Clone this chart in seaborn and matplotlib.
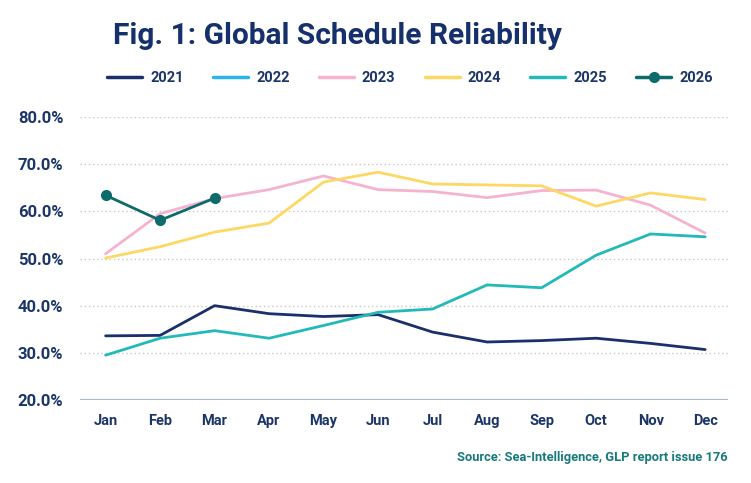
import numpy as np
import pandas as pd
import matplotlib
matplotlib.use("Agg")
import matplotlib.pyplot as plt
from matplotlib.lines import Line2D
from matplotlib.ticker import FuncFormatter
import seaborn as sns

# datos (fiabilidad en %)
meses = ["Jan", "Feb", "Mar", "Apr", "May", "Jun", "Jul", "Aug", "Sep", "Oct", "Nov", "Dec"]
anios = ["2021", "2022", "2023", "2024", "2025", "2026"]
v2021 = [33.6, 33.7, 40.0, 38.3, 37.7, 38.1, 34.4, 32.3, 32.6, 33.1, 32.0, 30.7]
v2022 = [np.nan] * 12
v2023 = [51.0, 59.5, 62.7, 64.6, 67.5, 64.6, 64.2, 62.9, 64.4, 64.5, 61.3, 55.4]
v2024 = [50.1, 52.5, 55.6, 57.5, 66.2, 68.3, 65.8, 65.6, 65.4, 61.1, 63.9, 62.5]
v2025 = [29.5, 33.1, 34.7, 33.1, 35.8, 38.6, 39.3, 44.4, 43.8, 50.7, 55.2, 54.6]
v2026 = [63.4, 58.1, 62.8]

colores = {"2021": "#1b2f6b", "2022": "#2bb5ea", "2023": "#f5b3d0",
           "2024": "#fdd865", "2025": "#23b9b9", "2026": "#0d6b6b"}
navy = "#1c3568"

series = {"2021": v2021, "2022": v2022, "2023": v2023, "2024": v2024, "2025": v2025, "2026": v2026}

sns.set_theme(style="white")
plt.rcParams["font.family"] = ["Roboto", "DejaVu Sans"]

fig = plt.figure(figsize=(7.51, 4.83), dpi=100)
ax = fig.add_axes([0.1065, 0.1718, 0.8629, 0.586])

for anio in anios:
    vals = series[anio]
    df = pd.DataFrame({"x": np.arange(len(vals)), "y": vals}).dropna()
    if df.empty:
        continue
    if anio == "2026":
        sns.lineplot(data=df, x="x", y="y", ax=ax, color=colores[anio], lw=2,
                     marker="o", markersize=8, markeredgewidth=0, zorder=5)
    else:
        sns.lineplot(data=df, x="x", y="y", ax=ax, color=colores[anio], lw=2, zorder=3)

ax.set_xlim(-0.47, 11.42)
ax.set_ylim(20, 80)
ax.set_xticks(range(12))
ax.set_xticklabels(meses)
ax.set_yticks(range(20, 81, 10))
ax.yaxis.set_major_formatter(FuncFormatter(lambda v, p: f"{v:.1f}%"))
ax.set_xlabel("")
ax.set_ylabel("")

for v in range(30, 81, 10):
    ax.axhline(v, color="#c9c9c9", lw=1, ls=(0, (1, 2)), zorder=1)
ax.axhline(20, color="#a8bccf", lw=1.6, zorder=2)

for s in ax.spines.values():
    s.set_visible(False)
ax.tick_params(axis="both", length=0)
ax.tick_params(axis="y", pad=12)
ax.tick_params(axis="x", pad=10)
for t in ax.get_yticklabels():
    t.set_fontsize(12)
    t.set_fontweight("bold")
    t.set_color(navy)
for t in ax.get_xticklabels():
    t.set_fontsize(10.5)
    t.set_fontweight("bold")
    t.set_color(navy)

fig.text(0.150, 0.925, "Fig. 1: Global Schedule Reliability", fontsize=21.5,
         fontweight="bold", color="#15306a", va="center", ha="left")

handles = []
for anio in anios:
    if anio == "2026":
        h = Line2D([], [], color=colores[anio], lw=2.5, marker="o", markersize=7)
    else:
        h = Line2D([], [], color=colores[anio], lw=2.5)
    handles.append(h)
leg = fig.legend(handles, anios, loc="center", bbox_to_anchor=(0.546, 0.8385), ncol=6,
                 frameon=False, handlelength=2.4, handletextpad=0.55, columnspacing=2.0,
                 prop={"weight": "bold", "size": 10.5})
for t in leg.get_texts():
    t.set_color(navy)

fig.text(0.9694, 1 - 457 / 483, "Source: Sea-Intelligence, GLP report issue 176", fontsize=9.3,
         fontweight="bold", color="#17797b", ha="right", va="center")

fig.savefig("out.png", dpi=100, facecolor="white")
